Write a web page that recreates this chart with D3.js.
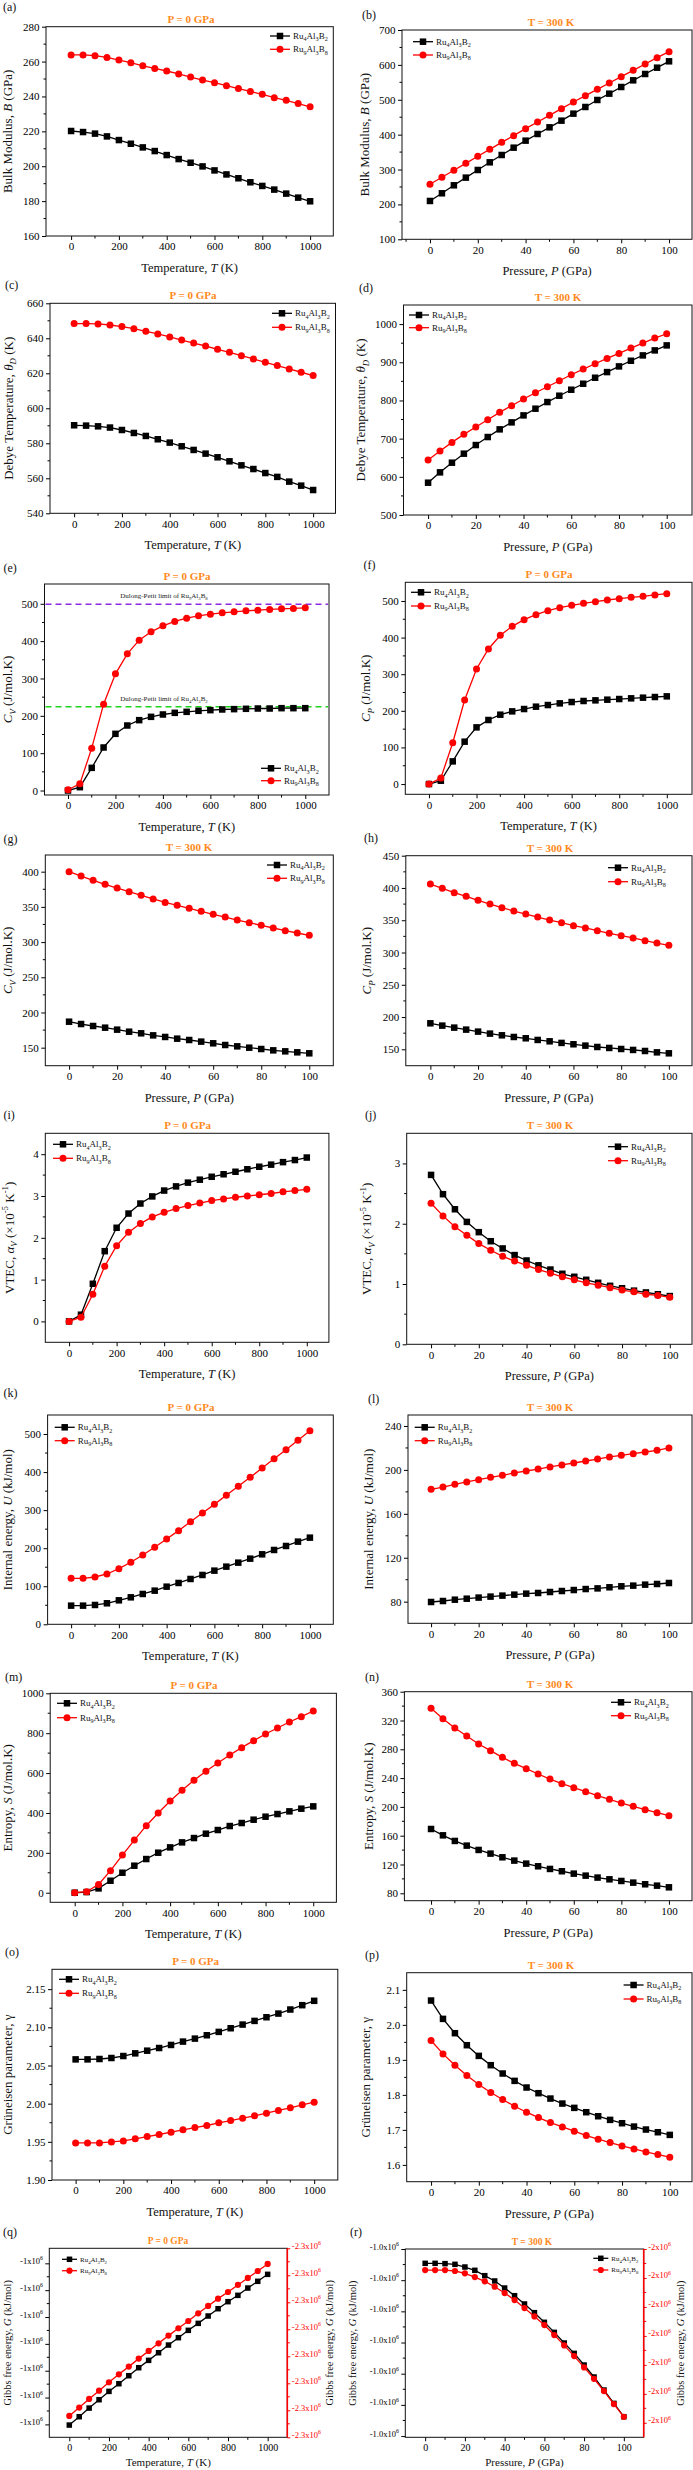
<!DOCTYPE html>
<html><head><meta charset="utf-8">
<script src="https://cdn.jsdelivr.net/npm/d3@7/dist/d3.min.js"></script>
<style>html,body{margin:0;padding:0;background:#fff}</style>
</head><body>
<svg id="chart" width="693" height="2470" xmlns="http://www.w3.org/2000/svg"></svg>
<script>
// ---------------- DATA ----------------
const temperatures = [0,50,100,150,200,250,300,350,400,450,500,550,600,650,700,750,800,850,900,950,1000];
const pressures = [0,5,10,15,20,25,30,35,40,45,50,55,60,65,70,75,80,85,90,95,100];
const seriesNames = ["Ru4Al3B2", "Ru9Al3B8"];

const bulkT_B2 = [220.2,219.6,218.7,217.1,215.0,212.9,210.8,208.7,206.4,204.1,202.0,199.9,197.6,195.3,193.1,190.8,188.7,186.6,184.3,182.0,179.9];
const bulkT_B8 = [263.8,263.8,263.4,262.4,260.9,259.4,257.6,256.1,254.6,252.9,251.1,249.4,247.9,246.2,244.5,242.9,241.2,239.3,237.8,235.9,234.1];
const bulkP_B2 = [209.9,231.9,254.8,276.8,298.7,320.7,341.7,362.7,382.8,401.9,421.0,440.1,460.2,479.3,499.4,517.5,536.6,555.7,573.9,592.0,610.2];
const bulkP_B8 = [257.7,277.7,297.8,317.8,337.9,357.9,378.0,397.1,417.2,436.3,455.4,474.5,493.6,511.8,529.9,548.1,566.2,584.4,602.5,620.7,637.9];

const debyeT_B2 = [590.3,590.1,589.7,589.0,587.6,585.9,584.2,582.3,580.4,578.3,576.2,574.1,572.0,569.7,567.4,565.3,563.0,560.8,558.1,555.8,553.3];
const debyeT_B8 = [648.4,648.4,648.2,647.6,646.7,645.5,644.0,642.5,640.8,639.0,637.3,635.6,633.7,632.0,630.1,628.2,626.3,624.4,622.5,620.6,618.7];
const debyeP_B2 = [584.6,611.7,637.0,660.6,683.2,704.2,724.3,742.6,760.9,778.4,795.8,812.4,828.1,843.8,859.5,874.3,889.2,904.0,918.0,931.1,944.2];
const debyeP_B8 = [644.0,667.5,690.2,711.2,730.4,749.6,768.8,786.2,803.7,820.2,835.9,851.7,867.4,882.2,896.2,910.1,923.2,937.2,950.3,963.4,974.7];

const cvT_B2 = [0,8.9,60.7,115.2,151.8,174.1,188.4,197.3,203.6,208.0,210.7,213.4,215.2,217.0,217.9,218.8,219.6,219.6,220.5,220.5,220.5];
const cvT_B8 = [2,17.9,113.4,231.3,312.5,366.0,402.7,425.0,441.0,452.7,461.6,467.9,472.3,475.9,478.6,481.3,483.0,484.8,486.6,487.5,489.3];
const dulongPetit = [224.5, 499.0];
const cpT_B2 = [0,9.1,61.9,115.7,154.8,174.9,189.4,198.5,204.9,211.3,215.8,220.4,224.0,226.8,228.6,230.4,232.2,234.1,235.9,237.7,239.5];
const cpT_B8 = [0,16.4,112.9,229.5,314.2,368.9,406.2,430.8,449.0,462.7,473.6,481.8,488.2,493.6,498.2,502.7,506.4,510.0,512.8,516.4,520.0];

const cvP_B2 = [186.9,183.6,180.8,178.4,175.6,172.7,170.4,167.5,165.2,162.8,160.9,158.6,156.2,153.8,151.9,150.0,148.1,146.2,144.8,143.4,142.0];
const cvP_B8 = [400.0,393.8,387.7,382.0,376.8,371.6,366.5,361.3,356.4,352.2,347.9,343.7,339.4,335.6,331.3,327.6,323.8,320.0,316.2,312.9,309.6];
const cpP_B2 = [190.3,186.7,183.6,180.5,177.4,174.3,171.7,169.1,167.1,164.5,162.4,159.9,157.8,155.7,153.6,152.1,150.5,149.0,147.4,145.3,143.8];
const cpP_B8 = [406.1,399.4,392.7,387.0,380.8,375.1,369.5,364.3,359.6,355.0,350.3,346.2,341.6,338.0,333.8,329.7,326.1,322.5,318.3,314.7,311.1];

const vtecT_B2 = [0,0.16,0.90,1.68,2.24,2.58,2.82,2.99,3.13,3.23,3.32,3.39,3.46,3.52,3.58,3.64,3.70,3.75,3.81,3.86,3.92];
const vtecT_B8 = [0,0.10,0.65,1.32,1.81,2.13,2.34,2.50,2.61,2.70,2.77,2.83,2.89,2.93,2.97,3.00,3.03,3.06,3.10,3.13,3.16];
const vtecP_B2 = [2.81,2.49,2.24,2.03,1.86,1.71,1.59,1.48,1.39,1.31,1.24,1.17,1.12,1.07,1.02,0.97,0.93,0.89,0.86,0.83,0.80];
const vtecP_B8 = [2.34,2.13,1.95,1.81,1.67,1.56,1.46,1.38,1.31,1.24,1.18,1.12,1.07,1.02,0.98,0.94,0.90,0.87,0.83,0.81,0.78];

const uT_B2 = [49.0,49.0,50.8,55.2,63.0,70.9,79.7,88.4,98.9,108.6,119.1,129.6,141.0,151.5,162.0,172.5,183.9,195.3,205.8,217.2,227.7];
const uT_B8 = [120.8,120.8,124.3,132.2,146.2,162.9,182.1,202.3,224.2,246.1,269.7,292.5,315.2,338.9,362.5,386.2,410.7,435.2,458.8,483.4,508.8];
const uP_B2 = [79.7,80.6,81.8,82.7,83.7,84.6,85.5,86.4,87.3,87.9,88.8,89.7,90.6,91.5,92.1,93.1,94.0,94.6,95.5,96.1,97.0];
const uP_B8 = [182.3,184.4,186.9,189.0,191.1,193.2,195.1,197.2,199.0,200.8,202.7,204.5,206.3,208.1,209.9,211.8,213.3,214.8,216.3,217.8,220.0];

const sT_B2 = [0,3.3,21.7,60.2,100.3,135.5,168.9,200.7,227.4,252.5,274.2,296.0,314.4,334.4,349.5,366.2,381.3,394.6,408.0,421.4,433.1];
const sT_B8 = [0,5.0,41.8,110.4,189.0,264.2,336.1,399.7,459.9,513.4,563.5,608.7,650.5,690.6,727.4,762.5,796.0,826.1,856.2,882.9,911.4];
const sP_B2 = [169.3,160.5,152.7,146.2,140.2,135.1,130.0,125.4,121.2,117.5,113.8,110.6,107.3,104.5,101.8,99.4,97.1,94.8,92.5,90.6,88.3];
const sP_B8 = [336.9,322.5,309.6,298.5,287.3,278.1,268.8,260.5,253.1,245.7,238.7,232.3,226.7,221.2,215.6,210.5,205.4,200.8,196.2,192.0,187.8];

const gammaT_B2 = [2.0580,2.0580,2.0585,2.0598,2.0624,2.0659,2.0694,2.0729,2.0769,2.0813,2.0852,2.0896,2.0940,2.0988,2.1036,2.1084,2.1132,2.1180,2.1233,2.1290,2.1347];
const gammaT_B8 = [1.9486,1.9486,1.9486,1.9499,1.9512,1.9539,1.9569,1.9596,1.9626,1.9657,1.9687,1.9714,1.9749,1.9779,1.9810,1.9841,1.9876,1.9911,1.9946,1.9985,2.0020];
const gammaP_B2 = [2.0695,2.0171,1.9762,1.9419,1.9114,1.8848,1.8610,1.8400,1.8210,1.8048,1.7895,1.7752,1.7629,1.7505,1.7390,1.7286,1.7190,1.7095,1.7010,1.6933,1.6857];
const gammaP_B8 = [1.9552,1.9171,1.8848,1.8552,1.8295,1.8067,1.7867,1.7676,1.7505,1.7352,1.7210,1.7086,1.6962,1.6838,1.6733,1.6638,1.6543,1.6457,1.6371,1.6295,1.6219];

const gibbsT_B2 = [-1000301.2,-1000285.7,-1000269.6,-1000254.0,-1000238.5,-1000224.2,-1000209.3,-1000194.4,-1000180.7,-1000166.5,-1000152.2,-1000138.5,-1000124.8,-1000111.8,-1000098.1,-1000084.5,-1000071.4,-1000059.6,-1000046.0,-1000033.5,-1000020.5];
const gibbsT_B8 = [-2300310.5,-2300295.0,-2300279.0,-2300263.6,-2300248.1,-2300233.3,-2300219.1,-2300204.3,-2300190.1,-2300175.9,-2300161.7,-2300148.1,-2300134.6,-2300120.4,-2300106.8,-2300093.2,-2300080.9,-2300067.9,-2300054.9,-2300042.0,-2300029.0];
const gibbsP_B2 = [-1000023.0,-1000023.0,-1000023.5,-1000024.6,-1000028.9,-1000034.2,-1000042.8,-1000051.3,-1000062.6,-1000074.9,-1000088.2,-1000102.1,-1000117.6,-1000133.7,-1000150.8,-1000167.4,-1000186.1,-1000205.3,-1000226.2,-1000247.6,-1000269.0];
const gibbsP_B8 = [-2000036.3,-2000036.3,-2000036.3,-2000038.0,-2000042.0,-2000048.4,-2000055.8,-2000065.1,-2000076.0,-2000088.1,-2000101.9,-2000116.3,-2000131.3,-2000148.5,-2000166.4,-2000184.8,-2000204.4,-2000224.0,-2000245.3,-2000267.7,-2000289.6];

// tick values and labels
const tempTicks = [0,200,400,600,800,1000];
const presTicks = [0,20,40,60,80,100];
const bulkTTicks = [160,180,200,220,240,260,280];
const bulkPTicks = [100,200,300,400,500,600,700];
const debyeTTicks = [540,560,580,600,620,640,660];
const debyePTicks = [500,600,700,800,900,1000];
const heatTTicks = [0,100,200,300,400,500];
const cvPTicks = [150,200,250,300,350,400];
const cpPTicks = [150,200,250,300,350,400,450];
const vtecTTicks = [0,1,2,3,4];
const vtecPTicks = [0,1,2,3];
const uTTicks = [0,100,200,300,400,500];
const uPTicks = [80,120,160,200,240];
const sTTicks = [0,200,400,600,800,1000];
const sPTicks = [80,120,160,200,240,280,320,360];
const gammaTTicks = [1.90,1.95,2.00,2.05,2.10,2.15];
const gammaPTicks = [1.6,1.7,1.8,1.9,2.0,2.1];
const gibbsTLeftTicks = [-1000300,-1000250,-1000200,-1000150,-1000100,-1000050,-1000000];
const gibbsTLeftLabels = ["-1x10^6","-1x10^6","-1x10^6","-1x10^6","-1x10^6","-1x10^6","-1x10^6"];
const gibbsTRightTicks = [-2300350,-2300300,-2300250,-2300200,-2300150,-2300100,-2300050,-2300000];
const gibbsTRightLabels = ["-2.3x10^6","-2.3x10^6","-2.3x10^6","-2.3x10^6","-2.3x10^6","-2.3x10^6","-2.3x10^6","-2.3x10^6"];
const gibbsPLeftTicks = [-1000300,-1000250,-1000200,-1000150,-1000100,-1000050,-1000000];
const gibbsPLeftLabels = ["-1.0x10^6","-1.0x10^6","-1.0x10^6","-1.0x10^6","-1.0x10^6","-1.0x10^6","-1.0x10^6"];
const gibbsPRightTicks = [-2000300,-2000250,-2000200,-2000150,-2000100,-2000050,-2000000];
const gibbsPRightLabels = ["-2x10^6","-2x10^6","-2x10^6","-2x10^6","-2x10^6","-2x10^6","-2x10^6"];

// ---------------- STYLE / TEXT ----------------
const FONT = '"Liberation Serif","Times New Roman",serif';
const RED = "#ff0000", BLACK = "#000000", ORANGE = "#ff8a1c";
const legB2 = [["Ru"],["4","b"],["Al"],["3","b"],["B"],["2","b"]];
const legB8 = [["Ru"],["9","b"],["Al"],["3","b"],["B"],["8","b"]];
const xTitleT = [["Temperature, "],["T","i"],[" (K)"]];
const xTitleP = [["Pressure, "],["P","i"],[" (GPa)"]];
const Y = {
  bulk: [["Bulk Modulus, "],["B","i"],[" (GPa)"]],
  debye: [["Debye Temperature, "],["θ","i"],["D","ib"],[" (K)"]],
  cv: [["C","i"],["V","ib"],[" (J/mol.K)"]],
  cp: [["C","i"],["P","ib"],[" (J/mol.K)"]],
  vtec: [["VTEC, "],["α","i"],["V","ib"],[" (×10"],["-5","p"],[" K"],["-1","p"],[")"]],
  u: [["Internal energy, "],["U","i"],[" (kJ/mol)"]],
  s: [["Entropy, "],["S","i"],[" (J/mol.K)"]],
  g: [["Grüneisen parameter, γ"]],
  gibbs: [["Gibbs free energy, "],["G","i"],[" (kJ/mol)"]]
};

const svg = d3.select("#chart");
svg.append("rect").attr("width",693).attr("height",2470).attr("fill","#fff");

function rich(sel, segs, fs){
  let shift = 0;
  segs.forEach(s => {
    const t = s[0], st = s[1] || "";
    let target = 0;
    if (st.includes("b")) target = fs*0.28;
    if (st.includes("p")) target = -fs*0.42;
    const ts = sel.append("tspan").text(t).attr("dy", target - shift);
    shift = target;
    if (st.includes("b") || st.includes("p")) ts.attr("font-size", fs*0.68);
    if (st.includes("i")) ts.attr("font-style","italic");
  });
}

function minorTicks(ticks, domain){
  const step = ticks[1]-ticks[0];
  const lo = Math.min(domain[0],domain[1]), hi = Math.max(domain[0],domain[1]);
  const eps = step*0.08;
  let v = ticks[0] - step/2;
  while (v - step > lo) v -= step;
  const out = [];
  for (; v < hi; v += step) if (v > lo+eps && v < hi-eps) out.push(v);
  return out;
}

function drawAxis(g, scale, orient, pos, ticks, fmt, fs, color, labels){
  const gen = orient==="bottom" ? d3.axisBottom(scale) : orient==="left" ? d3.axisLeft(scale) : d3.axisRight(scale);
  const ts = orient==="right" ? 3 : 4, pad = orient==="right" ? 1.5 : 2.5;
  gen.tickValues(ticks).tickSizeInner(ts).tickSizeOuter(0).tickPadding(pad);
  gen.tickFormat(labels ? (d => labels[ticks.indexOf(d)]) : fmt);
  const a = g.append("g").attr("transform", orient==="bottom" ? `translate(0,${pos})` : `translate(${pos},0)`).call(gen);
  a.attr("font-family", FONT).attr("font-size", fs);
  a.select(".domain").remove();
  a.selectAll(".tick line").attr("stroke", color).attr("stroke-width", 1);
  a.selectAll(".tick text").attr("fill", color);
  if (labels) {
    a.selectAll(".tick text").each(function(d){
      const s = labels[ticks.indexOf(d)];
      const el = d3.select(this); el.text(null);
      const parts = s.split("^");
      rich(el, parts.length>1 ? [[parts[0]],[parts[1],"p"]] : [[s]], fs);
    });
  }
  const mins = minorTicks(ticks, scale.domain());
  const mg = a.append("g");
  mins.forEach(v => {
    const p = scale(v);
    if (orient==="bottom") mg.append("line").attr("x1",p).attr("x2",p).attr("y1",0).attr("y2",2.5);
    else if (orient==="left") mg.append("line").attr("y1",p).attr("y2",p).attr("x1",0).attr("x2",-2.5);
    else mg.append("line").attr("y1",p).attr("y2",p).attr("x1",0).attr("x2",2.5);
  });
  mg.selectAll("line").attr("stroke", color).attr("stroke-width", 1);
}

function drawSeries(g, xs, ys, x, y, color, shape, sz){
  const line = d3.line().x((d,i)=>x(xs[i])).y(d=>y(d));
  g.append("path").datum(ys).attr("d", line).attr("fill","none").attr("stroke", color).attr("stroke-width", 1.3);
  if (shape==="square") {
    g.selectAll(null).data(ys).enter().append("rect")
      .attr("x",(d,i)=>x(xs[i])-sz/2).attr("y",d=>y(d)-sz/2).attr("width",sz).attr("height",sz).attr("fill",color);
  } else {
    g.selectAll(null).data(ys).enter().append("circle")
      .attr("cx",(d,i)=>x(xs[i])).attr("cy",d=>y(d)).attr("r",sz/2).attr("fill",color);
  }
}

function drawPanel(p){
  const [L,T,R,B] = p.box;
  const small = !!p.small;
  const g = svg.append("g");
  const xs = p.xKind==="T" ? temperatures : pressures;
  const x = d3.scaleLinear().domain(p.xd).range([L,R]);
  const y = d3.scaleLinear().domain(p.yd).range([B,T]);
  const y2 = p.yd2 ? d3.scaleLinear().domain(p.yd2).range([B,T]) : null;
  const tfs = small ? 10 : 11, yfs = small ? 8.5 : 11;
  drawAxis(g, x, "bottom", B, p.xKind==="T"?tempTicks:presTicks, d3.format("d"), tfs, BLACK, null);
  drawAxis(g, y, "left", L, p.yt, d3.format(p.fmt||"d"), yfs, BLACK, p.ylab||null);
  if (y2) drawAxis(g, y2, "right", R, p.yt2, null, yfs, RED, p.ylab2);
  g.append("rect").attr("x",L).attr("y",T).attr("width",R-L).attr("height",B-T)
    .attr("fill","none").attr("stroke","#111").attr("stroke-width",1);
  if (y2) g.append("line").attr("x1",R).attr("x2",R).attr("y1",T).attr("y2",B).attr("stroke",RED).attr("stroke-width",1.6);

  if (p.dulong) {
    const cols = ["#1fd41f", "#8a2be2"];
    const labs = [legB2, legB8];
    dulongPetit.forEach((v,k) => {
      g.append("line").attr("x1",L+1).attr("x2",R-1).attr("y1",y(v)).attr("y2",y(v))
        .attr("stroke",cols[k]).attr("stroke-width",1.5).attr("stroke-dasharray","6,4");
      const t = g.append("text").attr("x",164).attr("y",y(v)-6).attr("text-anchor","middle")
        .attr("font-family",FONT).attr("font-size",7).attr("fill","#222");
      rich(t, [["Dulong-Petit limit of "]].concat(labs[k]), 7);
    });
  }

  const msq = small ? 5.5 : 6.5, mci = small ? 6.2 : 7;
  const yr = y2 || y;
  drawSeries(g, xs, p.s1, x, y, BLACK, "square", msq);
  drawSeries(g, xs, p.s2, x, yr, RED, "circle", mci);

  // legend
  const [lx, ly, lg] = p.leg;
  const lfs = small ? 7 : 9, ll = small ? 15 : 20;
  [[BLACK,"square",legB2],[RED,"circle",legB8]].forEach((e,k) => {
    const yy = ly + k*lg;
    g.append("line").attr("x1",lx).attr("x2",lx+ll).attr("y1",yy).attr("y2",yy).attr("stroke",e[0]).attr("stroke-width",1.3);
    if (e[1]==="square") g.append("rect").attr("x",lx+ll/2-msq/2).attr("y",yy-msq/2).attr("width",msq).attr("height",msq).attr("fill",e[0]);
    else g.append("circle").attr("cx",lx+ll/2).attr("cy",yy).attr("r",mci/2).attr("fill",e[0]);
    const t = g.append("text").attr("x",lx+ll+3).attr("y",yy+lfs*0.33).attr("font-family",FONT).attr("font-size",lfs).attr("fill","#111");
    rich(t, e[2], lfs);
  });

  // titles
  const tx = p.tx !== undefined ? p.tx : (L+R)/2;
  g.append("text").attr("x",tx).attr("y",T-4).attr("text-anchor","middle").attr("font-family",FONT)
    .attr("font-weight","bold").attr("font-size", small?9.5:11).attr("fill",ORANGE).text(p.title);
  g.append("text").attr("x",p.lab[0]).attr("y",p.lab[1]).attr("font-family",FONT).attr("font-size",12).attr("fill","#111").text(p.id);
  const xtfs = small ? 11 : 12.5;
  const xt = g.append("text").attr("x",(L+R)/2).attr("y",B + (small?29:36)).attr("text-anchor","middle")
    .attr("font-family",FONT).attr("font-size",xtfs).attr("fill","#111");
  rich(xt, p.xKind==="T"?xTitleT:xTitleP, xtfs);
  const ytfs = small ? 10.5 : 13;
  const yt = g.append("text").attr("transform",`translate(${p.ytx},${(T+B)/2}) rotate(-90)`).attr("dy","0.35em")
    .attr("text-anchor","middle").attr("font-family",FONT).attr("font-size",ytfs).attr("fill","#111");
  rich(yt, p.ytitle, ytfs);
  if (p.ytx2 !== undefined) {
    const yt2 = g.append("text").attr("transform",`translate(${p.ytx2},${(T+B)/2}) rotate(-90)`).attr("dy","0.35em")
      .attr("text-anchor","middle").attr("font-family",FONT).attr("font-size",ytfs).attr("fill","#111");
    rich(yt2, p.ytitle, ytfs);
  }
}

const P0 = "P = 0 GPa", T300 = "T = 300 K";
const panels = [
  {id:"(a)", lab:[3,11], box:[46,26.7,333.3,236], xKind:"T", xd:[-105,1097], yd:[160,280], yt:bulkTTicks, title:P0, tx:191, ytitle:Y.bulk, ytx:12, s1:bulkT_B2, s2:bulkT_B8, leg:[270,36,13.3]},
  {id:"(b)", lab:[362,19], box:[402,30,692,239.3], xKind:"P", xd:[-11.7,109.6], yd:[100,700], yt:bulkPTicks, title:T300, tx:551, ytitle:Y.bulk, ytx:369, s1:bulkP_B2, s2:bulkP_B8, leg:[413,41.7,13.3]},
  {id:"(c)", lab:[5,289], box:[50,303.3,335.5,513.3], xKind:"T", xd:[-101,1093.6], yd:[540,660], yt:debyeTTicks, title:P0, tx:193, ytitle:Y.debye, ytx:12.5, s1:debyeT_B2, s2:debyeT_B8, leg:[272,313.3,14]},
  {id:"(d)", lab:[359,292], box:[403.5,305,692,515], xKind:"P", xd:[-10.3,110.6], yd:[500,1050], yt:debyePTicks, title:T300, tx:558, ytitle:Y.debye, ytx:365, s1:debyeP_B2, s2:debyeP_B8, leg:[409,315,12.7]},
  {id:"(e)", lab:[3.5,572], box:[44.5,584,329,795], xKind:"T", xd:[-99,1100], yd:[-12,553], yt:heatTTicks, title:P0, tx:187, ytitle:Y.cv, ytx:12, s1:cvT_B2, s2:cvT_B8, leg:[261,768.3,12.4], dulong:true},
  {id:"(f)", lab:[363.5,569], box:[405.3,582.3,692,794.3], xKind:"T", xd:[-99.5,1106], yd:[-28,551], yt:heatTTicks, title:P0, tx:549, ytitle:Y.cp, ytx:370, s1:cpT_B2, s2:cpT_B8, leg:[411,592.3,13.7]},
  {id:"(g)", lab:[3.5,843], box:[45.3,855,333.3,1065.7], xKind:"P", xd:[-9.9,110], yd:[124.4,423.7], yt:cvPTicks, title:T300, tx:189, ytitle:Y.cv, ytx:12, s1:cvP_B2, s2:cvP_B8, leg:[267,865,13.3]},
  {id:"(h)", lab:[364,842], box:[405.8,855.7,692,1065.7], xKind:"P", xd:[-10.3,109.7], yd:[124.6,450], yt:cpPTicks, title:T300, tx:550, ytitle:Y.cp, ytx:371, s1:cpP_B2, s2:cpP_B8, leg:[608,867.7,14]},
  {id:"(i)", lab:[3.5,1119], box:[45.3,1133.3,328.9,1342.3], xKind:"T", xd:[-100,1093], yd:[-0.5,4.5], yt:vtecTTicks, title:P0, tx:187.6, ytitle:Y.vtec, ytx:13.5, s1:vtecT_B2, s2:vtecT_B8, leg:[53,1144.3,14]},
  {id:"(j)", lab:[365,1119], box:[406.7,1133.3,692,1344.3], xKind:"P", xd:[-10.2,109.3], yd:[0,3.5], yt:vtecPTicks, title:T300, tx:550, ytitle:Y.vtec, ytx:371, s1:vtecP_B2, s2:vtecP_B8, leg:[608,1146.7,14]},
  {id:"(k)", lab:[3.5,1397], box:[47.6,1415,333.3,1624.3], xKind:"T", xd:[-98.5,1098], yd:[0,550], yt:uTTicks, title:P0, tx:191, ytitle:Y.u, ytx:12, s1:uT_B2, s2:uT_B8, leg:[54.7,1427.3,13.4]},
  {id:"(l)", lab:[368,1403], box:[408,1415,692,1623.3], xKind:"P", xd:[-9.7,109.7], yd:[60.3,250], yt:uPTicks, title:T300, tx:550, ytitle:Y.u, ytx:373, s1:uP_B2, s2:uP_B8, leg:[414.7,1427.3,13.4]},
  {id:"(m)", lab:[5,1681], box:[50.2,1693.3,336.4,1902.3], xKind:"T", xd:[-102.7,1097], yd:[-48,1000], yt:sTTicks, title:P0, tx:194, ytitle:Y.s, ytx:12, s1:sT_B2, s2:sT_B8, leg:[57,1703.3,14.4]},
  {id:"(n)", lab:[365,1681], box:[404.4,1691.7,692,1900.7], xKind:"P", xd:[-11.2,109.7], yd:[69.7,360], yt:sPTicks, title:T300, tx:550, ytitle:Y.s, ytx:373, s1:sP_B2, s2:sP_B8, leg:[611,1702.3,13.4]},
  {id:"(o)", lab:[5,1956], box:[52,1969.3,337.8,2180], xKind:"T", xd:[-99,1099], yd:[1.90,2.176], yt:gammaTTicks, fmt:".2f", title:P0, tx:195.6, ytitle:Y.g, ytx:12, s1:gammaT_B2, s2:gammaT_B8, leg:[59,1979.3,14]},
  {id:"(p)", lab:[365,1959], box:[406.7,1972.7,692,2181.7], xKind:"P", xd:[-10.2,109.3], yd:[1.552,2.149], yt:gammaPTicks, fmt:".1f", title:T300, tx:551, ytitle:Y.g, ytx:370, s1:gammaP_B2, s2:gammaP_B8, leg:[623.6,1985,14]},
  {id:"(q)", lab:[3,2236], box:[49.3,2248.3,287.3,2437.3], xKind:"T", xd:[-100.8,1099], yd:[-1000324,-999972], yt:gibbsTLeftTicks, ylab:gibbsTLeftLabels,
     yd2:[-2300350,-2300000], yt2:gibbsTRightTicks, ylab2:gibbsTRightLabels, title:P0, tx:168, ytitle:Y.gibbs, ytx:11, ytx2:333, s1:gibbsT_B2, s2:gibbsT_B8, leg:[62,2259.3,11.4], small:true},
  {id:"(r)", lab:[350,2236], box:[405.3,2249,643.7,2437.3], xKind:"P", xd:[-10,110], yd:[-1000302,-1000000], yt:gibbsPLeftTicks, ylab:gibbsPLeftLabels,
     yd2:[-2000325,-2000000], yt2:gibbsPRightTicks, ylab2:gibbsPRightLabels, title:T300, tx:532, ytitle:Y.gibbs, ytx:356, ytx2:684, s1:gibbsP_B2, s2:gibbsP_B8, leg:[593.3,2258.3,11.7], small:true}
];
panels.forEach(drawPanel);
</script>
</body></html>
